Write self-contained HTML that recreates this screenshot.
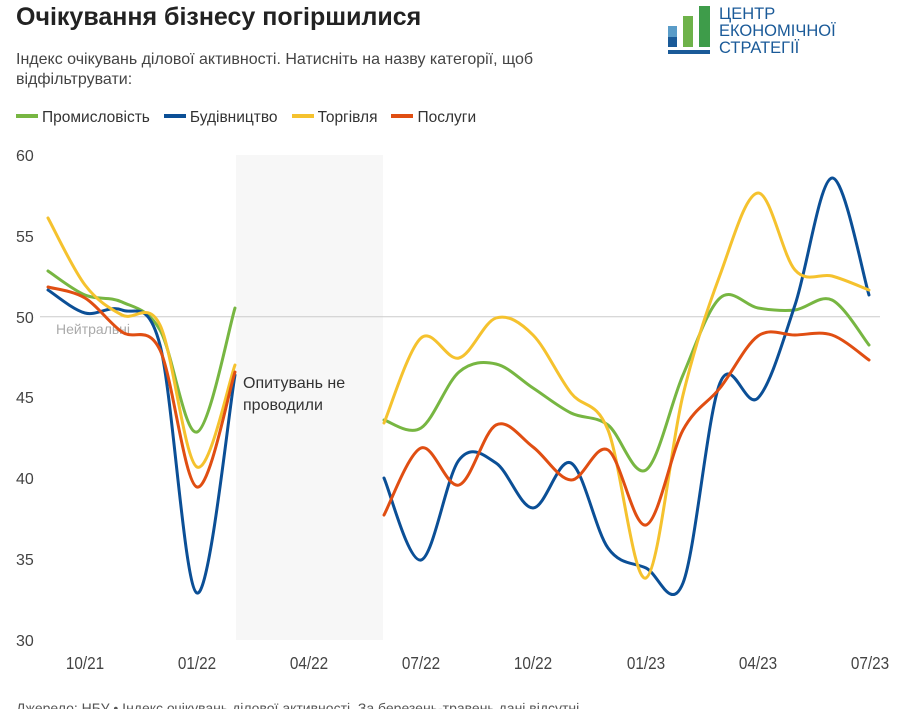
<!DOCTYPE html>
<html><head><meta charset="utf-8"><style>
body{margin:0;width:901px;height:709px;background:#fff;font-family:"Liberation Sans",sans-serif;overflow:hidden;position:relative}
.t{position:absolute;left:16px;top:3px;font-size:25px;font-weight:bold;color:#222}
.s{position:absolute;left:16px;top:50px;font-size:16px;color:#444;line-height:20px;width:600px}
.lg{position:absolute;left:16px;top:109px;font-size:15.5px;color:#333}
.lg span{margin-right:14px}
.lg i{display:inline-block;width:22px;height:4px;vertical-align:middle;margin-right:4px;position:relative;top:-2px}
</style></head><body>
<div class="t">Очікування бізнесу погіршилися</div>
<div class="s">Індекс очікувань ділової активності. Натисніть на назву категорії, щоб відфільтрувати:</div>
<div class="lg"><span><i style="background:#77b642"></i>Промисловість</span><span><i style="background:#0b4f96"></i>Будівництво</span><span><i style="background:#f5c22e"></i>Торгівля</span><span><i style="background:#e04e12"></i>Послуги</span></div>
<svg width="901" height="709" style="position:absolute;left:0;top:0">
<g transform="translate(668,4)">
<rect x="0" y="22" width="9" height="21" fill="#5a9cc8"/><rect x="0" y="33" width="9" height="10" fill="#1a5a98"/>
<rect x="15" y="12" width="10" height="31" fill="#6eb24a"/>
<rect x="31" y="2" width="11" height="41" fill="#3e9c4a"/>
<rect x="0" y="46" width="42" height="4" fill="#1a5a98"/>
<text x="51" y="15" font-size="16.5" fill="#1a5a98" font-family="Liberation Sans">ЦЕНТР</text>
<text x="51" y="32" font-size="16.5" fill="#1a5a98" font-family="Liberation Sans">ЕКОНОМІЧНОЇ</text>
<text x="51" y="49" font-size="16.5" fill="#1a5a98" font-family="Liberation Sans">СТРАТЕГІЇ</text>
</g>
<rect x="236" y="155" width="147" height="485" fill="#f7f7f7"/>
<line x1="40" x2="880" y1="316.7" y2="316.7" stroke="#ccc" stroke-width="1"/>
<g font-size="16" fill="#444" font-family="Liberation Sans">
<text x="16" y="161">60</text><text x="16" y="242">55</text><text x="16" y="323">50</text><text x="16" y="403">45</text><text x="16" y="484">40</text><text x="16" y="565">35</text><text x="16" y="646">30</text>
<g text-anchor="middle" font-size="18"><text transform="translate(85,669) scale(0.85,1)">10/21</text><text transform="translate(197,669) scale(0.85,1)">01/22</text><text transform="translate(309,669) scale(0.85,1)">04/22</text><text transform="translate(421,669) scale(0.85,1)">07/22</text><text transform="translate(533,669) scale(0.85,1)">10/22</text><text transform="translate(646,669) scale(0.85,1)">01/23</text><text transform="translate(758,669) scale(0.85,1)">04/23</text><text transform="translate(870,669) scale(0.85,1)">07/23</text></g>
</g>
<text x="56" y="334" font-size="14" fill="#aaa">Нейтральні</text>
<text x="243" y="388" font-size="16" fill="#333">Опитувань не</text>
<text x="243" y="410" font-size="16" fill="#333">проводили</text>
<text x="16" y="713" font-size="14" fill="#555">Джерело: НБУ • Індекс очікувань ділової активності. За березень-травень дані відсутні</text>
<g id="lines" fill="none" stroke-width="3" stroke-linecap="round"></g>
</svg>
<script>
var xs1=[48,85,122,160,197,235],xs2=[384,421,459,496,533,571,608,646,683,720,758,795,832,869];
var S=[
["#77b642",[271,295,302,330,432,308],[420,428,372,364,388,413,425,470,375,298,308,310,300,345]],
["#0b4f96",[290,313,310,345,593,375],[478,560,460,463,508,463,548,568,583,383,398,305,178,295]],
["#f5c22e",[218,285,315,325,467,365],[423,338,358,318,335,393,430,578,395,275,193,270,276,290]],
["#e04e12",[287,298,332,350,487,372],[515,448,485,425,447,480,450,525,430,388,336,335,335,360]]];
function path(x,y){var d="M"+x[0]+","+y[0];for(var i=0;i<x.length-1;i++){var x0=x[i-1]!==undefined?x[i-1]:x[i],y0=y[i-1]!==undefined?y[i-1]:y[i],x3=x[i+2]!==undefined?x[i+2]:x[i+1],y3=y[i+2]!==undefined?y[i+2]:y[i+1];
d+=" C"+(x[i]+(x[i+1]-x0)/6)+","+(y[i]+(y[i+1]-y0)/6)+" "+(x[i+1]-(x3-x[i])/6)+","+(y[i+1]-(y3-y[i])/6)+" "+x[i+1]+","+y[i+1];}return d;}
var g=document.getElementById("lines"),h="";
S.forEach(function(s){h+='<path stroke="'+s[0]+'" d="'+path(xs1,s[1])+'"/><path stroke="'+s[0]+'" d="'+path(xs2,s[2])+'"/>';});
g.innerHTML=h;
</script>
</body></html>
